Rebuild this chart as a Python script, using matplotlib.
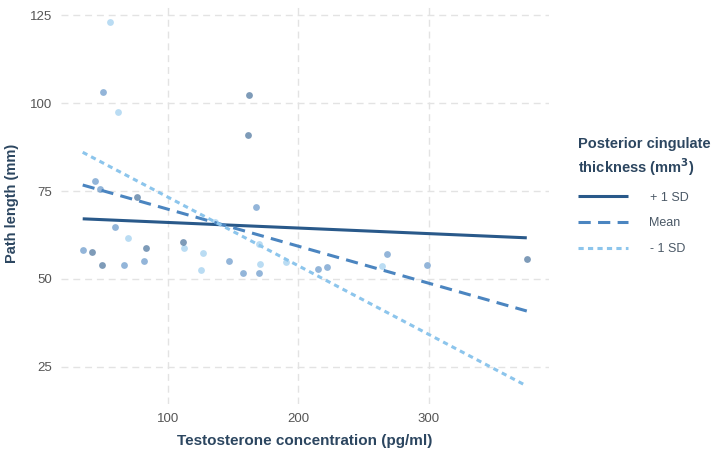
import matplotlib
matplotlib.use("Agg")
import matplotlib.pyplot as plt
from matplotlib.lines import Line2D

plt.rcParams['font.family'] = ['Liberation Sans', 'DejaVu Sans']

# ---- data ----
hi_x = [162.2, 161.4, 76.5, 83.6, 112.0, 375.2, 42.3, 49.7]
hi_y = [102.2, 91.0, 73.3, 58.7, 60.4, 55.6, 57.7, 54.0]
mid_x = [44.6, 48.2, 167.6, 59.7, 35.2, 66.8, 82.0, 146.7, 157.9, 170.1, 215.2, 222.3, 268.3, 298.4, 50.2]
mid_y = [77.9, 75.5, 70.5, 64.9, 58.2, 54.1, 55.1, 55.1, 51.8, 51.7, 52.8, 53.5, 57.0, 54.0, 103.2]
lo_x = [55.9, 61.7, 69.4, 112.5, 126.8, 125.2, 169.6, 171.1, 191.0, 264.2, 136.2]
lo_y = [123.1, 97.5, 61.7, 58.7, 57.4, 52.6, 60.0, 54.4, 54.8, 53.8, 66.3]

line_x = [35, 375]
line_hi = [67.1, 61.7]
line_mean = [76.7, 40.9]
line_lo = [86.0, 19.6]

labels = ["+ 1 SD", "Mean", "- 1 SD"]
x_ticks = [100, 200, 300]
y_ticks = [25, 50, 75, 100, 125]

c_hi = "#29598a"
c_mid = "#4b85c0"
c_lo = "#8cc5ec"
txt = "#2c4660"

fig = plt.figure(figsize=(7.14, 4.55), dpi=100)
W, H = 714, 455
ax = fig.add_axes([60.5 / W, (455 - 404.3) / H, (549 - 60.5) / W, (404.3 - 3.4) / H])

ax.scatter(mid_x, mid_y, s=24, color=c_mid, alpha=0.6, linewidths=0, zorder=2)
ax.scatter(lo_x, lo_y, s=24, color=c_lo, alpha=0.6, linewidths=0, zorder=2)
ax.scatter(hi_x, hi_y, s=24, color=c_hi, alpha=0.6, linewidths=0, zorder=2)

lw = 2.2
l1, = ax.plot(line_x, line_hi, color=c_hi, lw=lw, solid_capstyle='butt', zorder=3)
l2, = ax.plot(line_x, line_mean, color=c_mid, lw=lw, dashes=(4, 2.4), dash_capstyle='butt', zorder=3)
l3, = ax.plot(line_x, line_lo, color=c_lo, lw=lw, dashes=(1.7, 1.4), dash_capstyle='butt', zorder=3)

ax.set_xlim(18, 392)
ax.set_ylim(14.4, 128.3)
ax.set_xticks(x_ticks)
ax.set_yticks(y_ticks)
ax.grid(True, color="#e3e3e3", lw=1.0, dashes=(5, 3.5))
ax.set_axisbelow(True)
for s in ax.spines.values():
    s.set_visible(False)
ax.tick_params(length=0, labelsize=9.5, labelcolor="#555555", pad=6)

ax.set_xlabel("Testosterone concentration (pg/ml)", fontsize=11, fontweight='bold', color=txt, labelpad=7)
ax.set_ylabel("Path length (mm)", fontsize=10.5, fontweight='bold', color=txt, labelpad=8)

leg = fig.legend([l1, l2, l3], labels, loc='upper left', bbox_to_anchor=(567 / W, 1 - 126 / H),
                 frameon=False, title="Posterior cingulate\nthickness (mm$^\\mathbf{3}$)",
                 fontsize=9, handlelength=4.0, handletextpad=1.7, labelspacing=1.1,
                 title_fontproperties={'weight': 'bold', 'size': 10.5})
leg._legend_box.align = "left"
leg.get_title().set_color(txt)
leg.get_title().set_linespacing(1.3)
for t in leg.get_texts():
    t.set_color("#4a5866")

fig.savefig("out.png", dpi=100)
